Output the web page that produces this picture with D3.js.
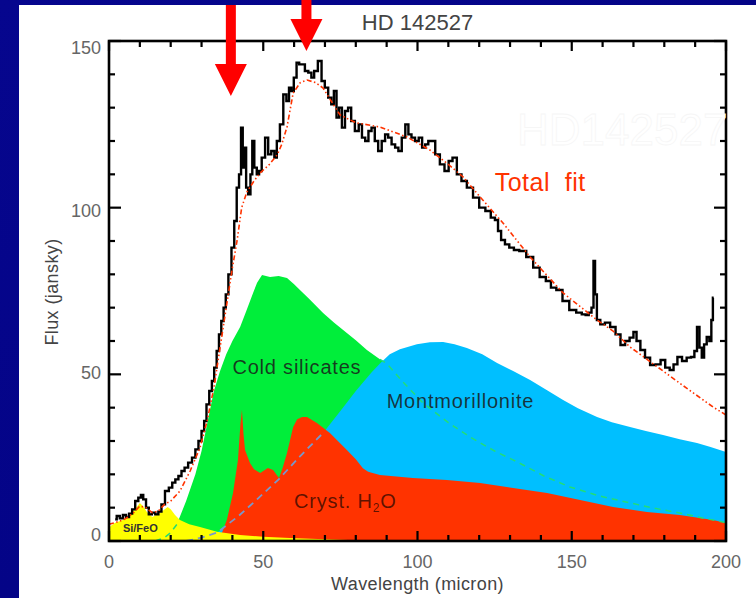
<!DOCTYPE html>
<html><head><meta charset="utf-8">
<script src="https://cdn.jsdelivr.net/npm/d3@7"></script>
<style>html,body{margin:0;padding:0;background:#04048a;}svg{display:block;}</style>
</head><body>
<svg id="c" width="756" height="598"></svg>
<script>
// ---- data ----
const obsWave = [2,3,4,5,6,7,8,9,10,10.7,11.5,12.5,13.3,14.5,15.5,16.5,17.5,18.8,20,21,22,23,24,25,26.3,27.5,28.5,29.5,30.5,31.2,32,33,33.7,34.5,35.3,36,36.8,37.5,38.2,39.2,40.2,41,41.8,42.5,43.1,43.6,44.2,44.7,45.5,46.2,46.7,47.5,48.3,49,50,51.2,52,53.2,54,54.8,56,57,58,58.7,59.5,60.3,61.3,62,63,64,65.2,66,67,68.4,69.4,70.5,71.6,72.5,73.3,74.2,75,76,77,78,79,80.4,81.5,82.5,83.6,84.6,85.6,86.7,87.8,89,90,91,92.2,93.3,94.3,95.5,96.6,97.5,98.6,99.8,101,102,103,104,105,106.5,108,109.5,110.7,112,113.5,115,117,119,121,123,124.5,125.7,126.5,127.7,129,130.5,132,134,136.5,138.5,140.7,142.5,144,146,148,150.4,152.5,154,155,156,156.8,157.3,157.8,158.5,160,161.5,163.4,165,166.6,168,169.5,170.5,171.5,173,174.5,176.3,178,179.6,181,182.5,183.5,185,186.5,188,189.3,190.2,191,191.8,192.5,193.3,194.2,195,195.5,196];
const obsFlux = [6.5,7.5,6.8,7.8,7.2,8.2,9.5,12,13,13.8,12.5,10,8,8.5,8,8.8,11,15,16,17.5,18.5,19.5,21,22,23.5,25,27.5,30,33,36,41,45,48,52,57,62,66,70,74,80,88,96,106,110,124,112,118,106,104,110,120,112,110,111,115,121,116,117,115,120,125,134,132,136,135,139,143.5,143,143,141,140.5,139,141,144,138,136,133,131,135,127,130,124,129,130,126,123,125,121,120,123,124,120,117,120,122,121,119,118,117,121,125,122,121,120,121,118,119,120,120,116,113,111,114,115,110,108,106,103,100,99,97,96.3,93,90.3,89,88,87.3,87,85.2,82,79.2,78,76,75.3,72,69.3,68.5,68,67.8,68.5,70,84,74,66.3,65,65.5,64.2,62,58.8,60,61,62.7,60,57.3,55,52.8,53,54.3,52,51.3,53,55.2,54,55,55.2,57,64.2,58,55,59,61.2,60,66.3,73];

const fitWave = [0,2,5,8,10,12,14,16,18,20,23,26.3,29.5,31.8,34,36,38,40,41.5,43,44.7,47,49,52,54.5,56,57.7,59.7,62,64.2,67,69.4,72,74.9,80,87.8,96.6,104,110,114.8,120.3,127.7,136.5,147.2,158.2,163.4,168.9,179.6,187,195.8,200];
const fitFlux = [5,5.5,6.5,8.5,10.5,10,8.5,9,11,12,15,21,28,36,46,58,70,82,90,100,104.7,108,110.4,113,115.8,119,124.2,134.4,137.5,138.3,137.5,135.9,132,127.8,125.5,124.2,121.2,117.3,113,109.2,103.2,95.4,85.2,74.4,66.3,63,58.2,51,46,40.2,37.8];

const silicateWave = [15,18,20,22,25,28,30,32,34,36,38,40,42.5,44.5,46.7,48,49.6,52.2,55,57.7,60,61.9,65,69.4,73,77.1,80,83.6,87.8,90.1,95,101.8,110,117,125,133,141,149.4,159,169,177,185,192,200];
const silicateFlux = [0,1,2.5,5,12,20,27,36,45,51,56,60,64.2,69,74.4,77.5,79.8,79.2,79.5,78.9,77,75.3,72.5,68.4,65.5,62.4,60.2,57.3,54.5,53.2,48,41.4,35.5,31.2,27,23.4,19.5,16.2,13.5,11.4,9.8,8.4,7,5.5];

const montWave = [25,30,35,42,48,55,62,69.4,75,80,85,88,91,94.3,99.8,104,108.3,112,116,121,125.8,131,136.5,142,147.2,152,158.2,163,168.9,174,179.6,185,190.6,195,200];
const montFlux = [0,1,2.5,7.5,12.5,18.5,25.5,32.4,39,45,50.5,53.4,56,57.5,59,59.6,59.7,59,57.9,56,53.4,51,48.3,45.2,42.3,39.8,37.2,35.6,34.2,33,31.8,30.5,29.4,28.2,26.7];

const waterWave = [34,36,38.2,40.2,41.8,42.6,43.1,43.6,44.1,45.7,47,49,50.5,51.5,53.2,54.2,55.1,56.3,57.7,59.7,61,62.6,64.2,67.4,71.6,77.1,80,82.3,84,87.8,98.5,109.5,120.3,131,142,152.7,163.4,174.4,185,195.8,200];
const waterFlux = [0,1,6.3,14.4,24.3,35,39.3,32,27.3,23.4,21.5,20.4,21.3,21.9,21.3,20,18.9,22,26.4,34.2,36.5,37.2,37.2,35.4,32.4,27.3,24.5,21.8,20.8,19.8,18.9,18.3,17.4,15.9,14.4,12.3,10.2,8.7,7.8,6.3,5.4];

const sifeoWave = [0,0.5,2,4.5,7,9,10,11,12.3,14,16.5,19,20,21.4,23,26,29.5,35,42.5,50,58.7,70,80,90];
const sifeoFlux = [3.5,4.5,5.5,6.3,8,10.2,11.4,10.5,8.7,7.2,8.4,10.2,9.5,7.8,6.3,5,4.2,2.8,1.8,1.3,0.9,0.5,0.2,0];

const xTicksMajor = [0,50,100,150,200];
const yTicksMajor = [0,50,100,150];
const arrowWave = [39.5,64];
const arrowTipFlux = [133.5,147];

const labels = [
  {t:"Cold silicates", w:40, f:50},
  {t:"Montmorillonite", w:90, f:40},
  {t:"Total fit", w:125, f:105}
];

// ---- drawing ----
const svg = d3.select("#c");
const defs = svg.append("defs");
const g = defs.append("linearGradient").attr("id","bg").attr("x1","0").attr("y1","0").attr("x2","1").attr("y2","1");
g.append("stop").attr("offset","0").attr("stop-color","#06068e");
g.append("stop").attr("offset","1").attr("stop-color","#020280");
svg.append("rect").attr("width",756).attr("height",598).attr("fill","url(#bg)");
svg.append("rect").attr("x",19).attr("y",5).attr("width",737).attr("height",593).attr("fill","#fff");

const x = d3.scaleLinear().domain([0,200]).range([109,726]);
const y = d3.scaleLinear().domain([0,150]).range([541,41]);
const yLab = d3.scaleLinear().domain([0,150]).range([535,48]);

const zip = (a,b)=>a.map((v,i)=>[v,b[i]]);
const area = d3.area().x(d=>x(d[0])).y0(y(0)).y1(d=>y(d[1]));
const mkLine = ()=>d3.line().x(d=>x(d[0])).y(d=>y(d[1]));

const plot = svg.append("g");
plot.append("path").attr("d",area(zip(silicateWave,silicateFlux))).attr("fill","#00ee3a");
plot.append("path").attr("d",area(zip(montWave,montFlux))).attr("fill","#00bfff");
plot.append("path").attr("d",area(zip(waterWave,waterFlux))).attr("fill","#ff3300");
plot.append("path").attr("d",area(zip(sifeoWave,sifeoFlux))).attr("fill","#ffff00");

// hidden continuations as dashed lines
plot.append("path").attr("d",mkLine().defined(d=>d[0]>=87.8||d[0]<=22)(zip(silicateWave,silicateFlux)))
  .attr("fill","none").attr("stroke","#22dd77").attr("stroke-width",1.5).attr("stroke-dasharray","6,5");
plot.append("path").attr("d",mkLine().defined(d=>d[0]<=69.4)(zip(montWave,montFlux)))
  .attr("fill","none").attr("stroke","#7799cc").attr("stroke-width",1.8).attr("stroke-dasharray","7,5");

plot.append("path").attr("d",mkLine().curve(d3.curveStep)(zip(obsWave,obsFlux)))
  .attr("fill","none").attr("stroke","#000").attr("stroke-width",2.4).attr("stroke-linejoin","miter");
plot.append("path").attr("d",mkLine()(zip(fitWave,fitFlux)))
  .attr("fill","none").attr("stroke","#ff3300").attr("stroke-width",1.6).attr("stroke-dasharray","5,2.5,1.5,2.5,1.5,2.5");

// frame
const ax = svg.append("g").attr("stroke","#000").attr("stroke-width",2.2);
ax.append("rect").attr("x",x(0)).attr("y",y(150)).attr("width",x(200)-x(0)).attr("height",y(0)-y(150)).attr("fill","none").attr("stroke-width",2.6);
const xt = d3.range(0,201,10), yt = d3.range(0,151,10);
xt.forEach(v=>{
  const L = v%50===0?10:6;
  ax.append("line").attr("x1",x(v)).attr("x2",x(v)).attr("y1",y(0)).attr("y2",y(0)-L);
  ax.append("line").attr("x1",x(v)).attr("x2",x(v)).attr("y1",y(150)).attr("y2",y(150)+L);
});
yt.forEach(v=>{
  const L = v%50===0?12:6;
  ax.append("line").attr("y1",y(v)).attr("y2",y(v)).attr("x1",x(0)).attr("x2",x(0)+L);
  ax.append("line").attr("y1",y(v)).attr("y2",y(v)).attr("x1",x(200)).attr("x2",x(200)-L);
});

const font = "'Liberation Sans', Arial, sans-serif";
svg.append("g").selectAll("text").data(xTicksMajor).join("text")
  .attr("x",d=>x(d)).attr("y",568).attr("text-anchor","middle")
  .attr("font-family",font).attr("font-size",18).attr("fill","#666").text(d=>d);
svg.append("g").selectAll("text").data(yTicksMajor).join("text")
  .attr("x",101).attr("y",d=>yLab(d)).attr("dy","0.35em").attr("text-anchor","end")
  .attr("font-family",font).attr("font-size",18).attr("fill","#666").text(d=>d);

svg.append("text").attr("x",(x(0)+x(200))/2).attr("y",590).attr("text-anchor","middle")
  .attr("font-family",font).attr("font-size",18).attr("letter-spacing",0.4).attr("fill","#444").text("Wavelength (micron)");
svg.append("text").attr("transform","translate(58,292) rotate(-90)").attr("text-anchor","middle")
  .attr("font-family",font).attr("font-size",18).attr("letter-spacing",0.4).attr("fill","#444").text("Flux (jansky)");
svg.append("text").attr("x",(x(0)+x(200))/2).attr("y",30).attr("text-anchor","middle")
  .attr("font-family",font).attr("font-size",22).attr("fill","#444").text("HD 142527");

svg.append("g").selectAll("text").data(labels).join("text")
  .attr("x",d=>x(d.w)).attr("y",d=>y(d.f)).attr("font-family",font)
  .attr("font-size",d=>d.t==="Total fit"?25:20).attr("letter-spacing",d=>d.t==="Total fit"?0.5:0.8)
  .attr("fill",d=>d.t==="Total fit"?"#ff3300":"#1a1a1a").attr("fill-opacity",d=>d.t==="Total fit"?1:0.85)
  .attr("xml:space","preserve").text(d=>d.t==="Total fit"?"Total  fit":d.t);
const cr = svg.append("text").attr("x",x(60)).attr("y",y(10)).attr("font-family",font).attr("font-size",20)
  .attr("letter-spacing",0.8).attr("fill","#000").attr("fill-opacity",0.65);
cr.append("tspan").text("Cryst. H");
cr.append("tspan").attr("font-size",12).attr("dy",4).text("2");
cr.append("tspan").attr("dy",-4).text("O");
svg.append("text").attr("x",x(4.5)).attr("y",y(2.7)).attr("font-family",font).attr("font-size",11)
  .attr("font-weight","bold").attr("fill","#333").text("Si/FeO");

// arrows
const arrowTop = [5,0];
arrowWave.forEach((w,i)=>{
  const cx = x(w), tip = y(arrowTipFlux[i]), hl = 32, hw = 16, sw = 5;
  svg.append("path").attr("fill","#ff0000")
    .attr("d",`M${cx-sw},${arrowTop[i]}L${cx+sw},${arrowTop[i]}L${cx+sw},${tip-hl}L${cx+hw},${tip-hl}L${cx},${tip}L${cx-hw},${tip-hl}L${cx-sw},${tip-hl}Z`);
});

// faint watermark
svg.append("text").attr("x",517).attr("y",145).attr("font-family",font).attr("font-size",44)
  .attr("fill","#fff").attr("stroke","#f6f6f6").attr("stroke-width",0.8).text("HD142527");
</script>
</body></html>
